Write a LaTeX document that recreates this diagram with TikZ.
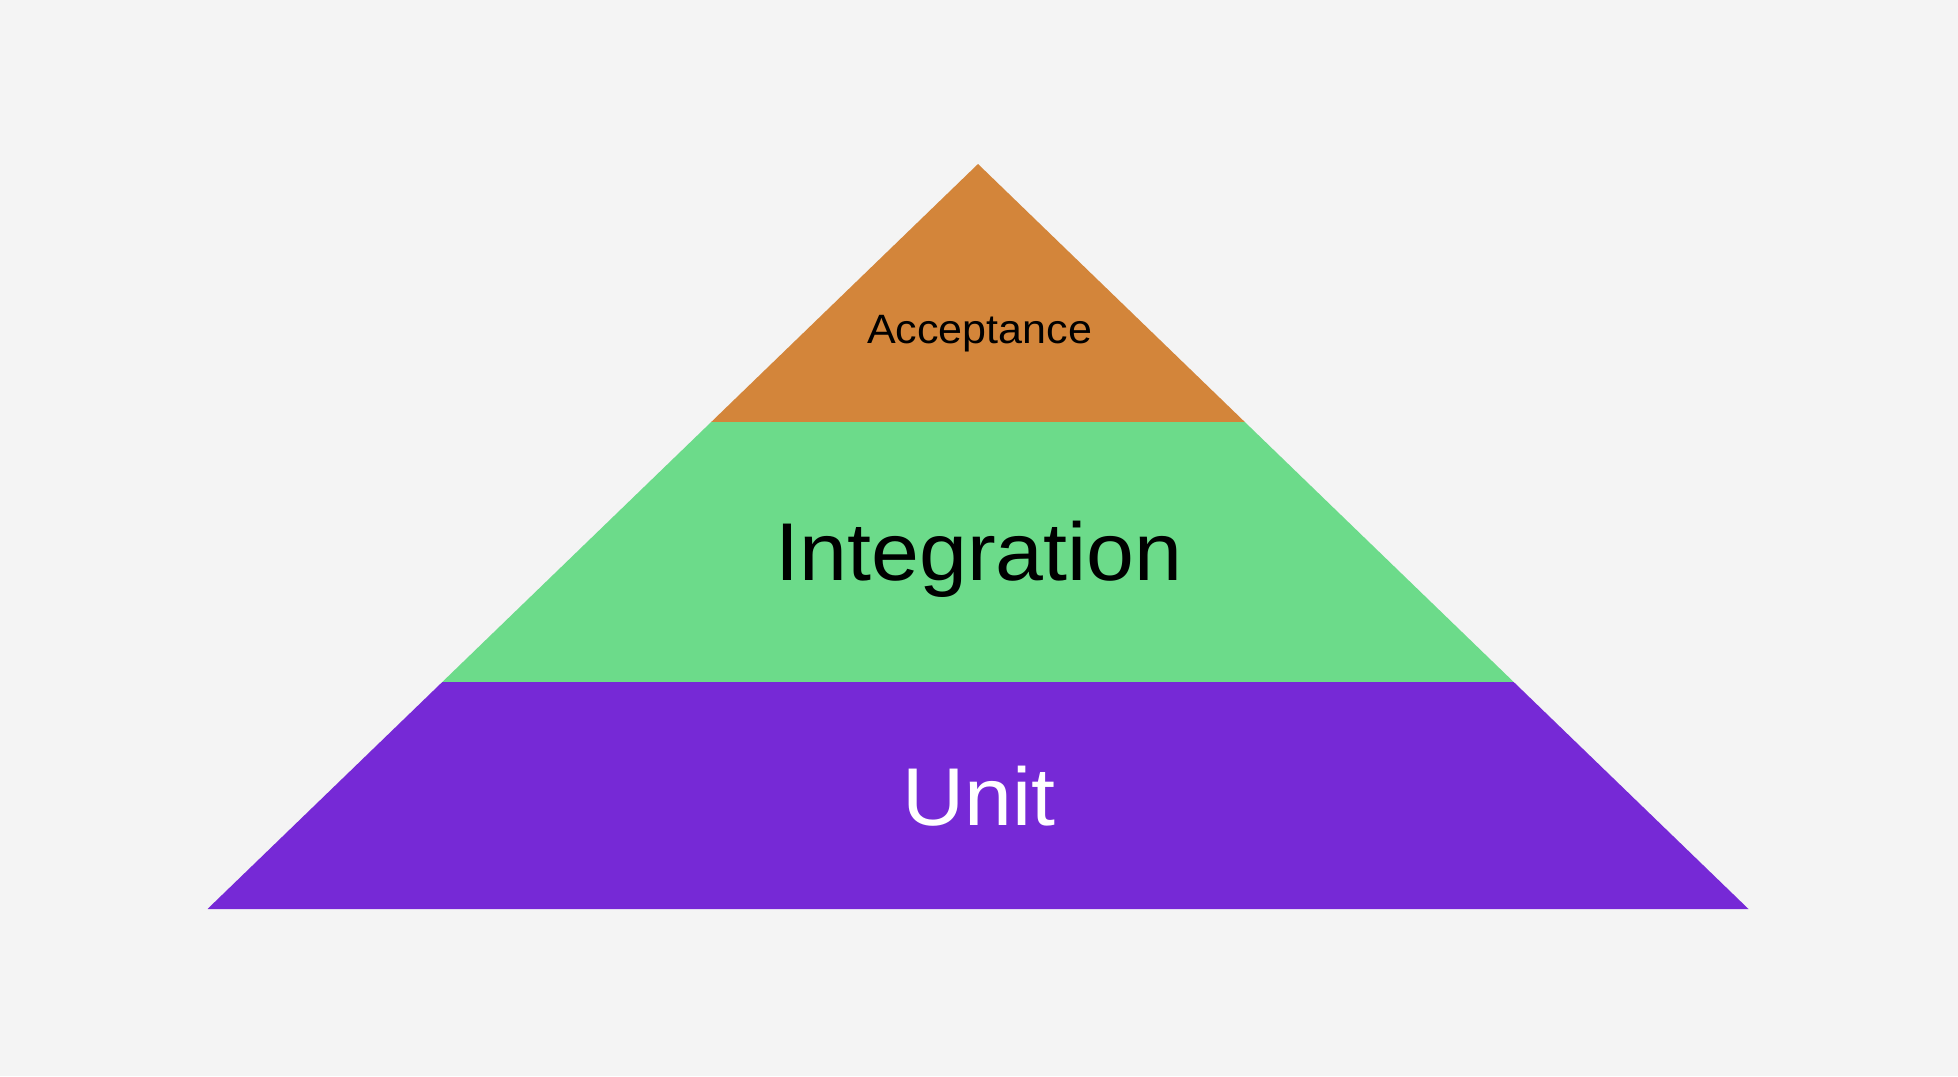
\documentclass[tikz,border=0pt]{standalone}
\usepackage{fontspec}
\setmainfont{Liberation Sans}[FakeStretch=1.05]
\definecolor{bgc}{HTML}{F4F4F4}
\definecolor{accc}{HTML}{D3853A}
\definecolor{intc}{HTML}{6CDB8A}
\definecolor{unitc}{HTML}{7629D6}
\tikzset{
  band/.style={draw=none},
  lbl/.style={inner sep=0pt, anchor=center},
}
\begin{document}
\begin{tikzpicture}[x=1pt,y=-1pt]
\fill[bgc] (0,0) rectangle (1958,1076);
\useasboundingbox (0,0) rectangle (1958,1076);
\coordinate (apex) at (978,164);
\coordinate (bl) at (207.5,909);
\coordinate (br) at (1748.5,909);
\coordinate (l1) at (711.2,422);
\coordinate (r1) at (1244.8,422);
\coordinate (l2) at (442.3,682);
\coordinate (r2) at (1513.7,682);
\fill[accc,band] (apex) -- (r1) -- (l1) -- cycle;
\fill[intc,band] (l1) -- (r1) -- (r2) -- (l2) -- cycle;
\fill[unitc,band] (l2) -- (r2) -- (br) -- (bl) -- cycle;
\node[lbl, text=black, font=\fontsize{41}{41}\selectfont] (acc) at (979.5,334) {\vphantom{A}Acceptance\vphantom{p}};
\node[lbl, text=black, font=\fontsize{82}{82}\selectfont] (int) at (979,559) {Integration};
\node[lbl, text=white, font=\fontsize{82}{82}\selectfont] (unit) at (979,796) {Unit};
\end{tikzpicture}
\end{document}
